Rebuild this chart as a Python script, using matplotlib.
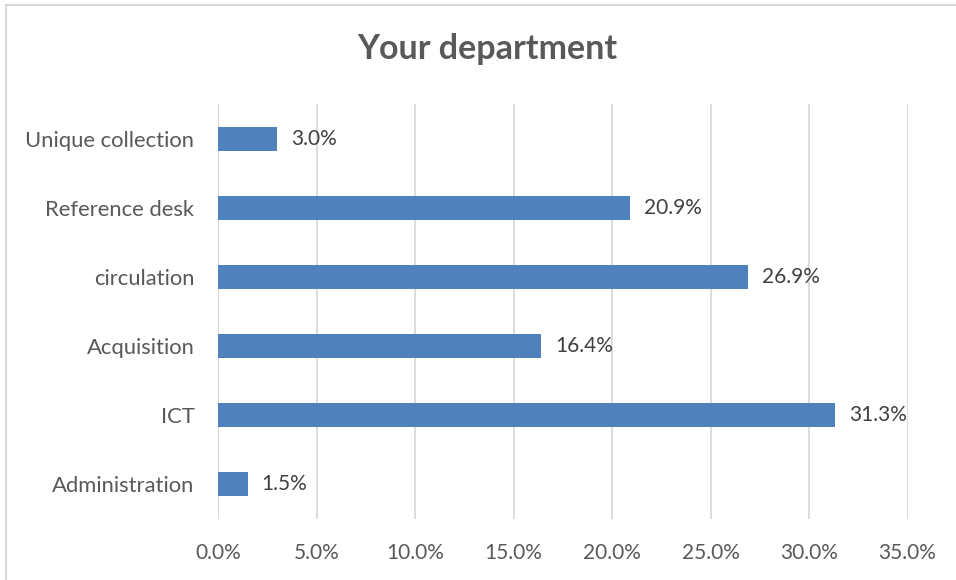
import matplotlib.pyplot as plt
import matplotlib.patches as patches
from matplotlib.ticker import FuncFormatter

# --- Dados ---
departments = ["Administration", "ICT", "Acquisition", "circulation",
               "Reference desk", "Unique collection"]
shares = [1.5, 31.3, 16.4, 26.9, 20.9, 3.0]
x_ticks = [0, 5, 10, 15, 20, 25, 30, 35]
title = "Your department"

bar_color = "#4F81BD"
text_color = "#595959"
grid_color = "#D9D9D9"

plt.rcParams['font.family'] = ['Lato', 'DejaVu Sans']

W, H = 956, 580
fig = plt.figure(figsize=(W / 100, H / 100), dpi=100)

# area do grafico (em pixels convertidos para fracoes)
left, right = 218 / W, 907.5 / W
top, bottom = 104 / H, 519 / H
ax = fig.add_axes([left, 1 - bottom, right - left, bottom - top])

ypos = list(range(len(departments)))
ax.barh(ypos, shares, height=0.347, color=bar_color, zorder=3)

for y, v in zip(ypos, shares):
    ax.text(v + 0.72, y, f"{v:.1f}%", va="center", ha="left",
            fontsize=15, color="#404040", zorder=4)

ax.set_xlim(0, 35)
ax.set_ylim(-0.5, len(departments) - 0.5)
ax.set_xticks(x_ticks)
ax.xaxis.set_major_formatter(FuncFormatter(lambda v, p: f"{v:.1f}%"))
ax.set_yticks(ypos)
ax.set_yticklabels(departments)
ax.tick_params(axis="both", length=0, labelcolor=text_color)
ax.tick_params(axis="x", pad=17, labelsize=15)
ax.tick_params(axis="y", pad=17, labelsize=15.8)

ax.grid(axis="x", color=grid_color, linewidth=1.3, zorder=0)
for s in ax.spines.values():
    s.set_visible(False)
ax.axvline(0, color=grid_color, linewidth=1.3, zorder=1)

fig.text(487 / W, 1 - 49 / H, title, ha="center", va="center",
         fontsize=24.5, fontweight="bold", color=text_color)

# borda do grafico
border = patches.Rectangle((6 / W, -0.05), 1.2, 1 - 5 / H + 0.05,
                           transform=fig.transFigure, fill=False,
                           edgecolor="#D9D9D9", linewidth=1.5)
fig.patches.append(border)

fig.savefig("out.png", dpi=100)
